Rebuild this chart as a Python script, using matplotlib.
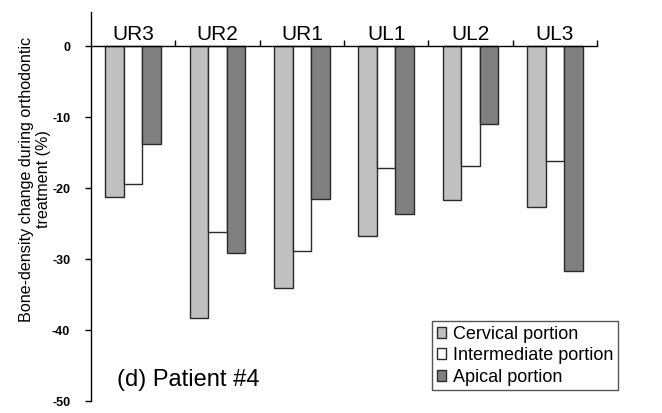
import matplotlib
matplotlib.use("Agg")
import matplotlib.pyplot as plt
import numpy as np
from matplotlib.patches import Patch

plt.rcParams['font.family'] = ['Liberation Sans', 'DejaVu Sans']
plt.rcParams['axes.unicode_minus'] = False

teeth = ["UR3", "UR2", "UR1", "UL1", "UL2", "UL3"]
cervical = [-21.3, -38.3, -34.0, -26.7, -21.6, -22.6]
intermediate = [-19.4, -26.2, -28.9, -17.2, -16.9, -16.1]
apical = [-13.8, -29.1, -21.5, -23.7, -11.0, -31.6]
series_names = ["Cervical portion", "Intermediate portion", "Apical portion"]
colors = ["#c0c0c0", "#ffffff", "#808080"]
yticks = [0, -10, -20, -30, -40, -50]

fig = plt.figure(figsize=(6.62, 4.13), dpi=100)
ax = fig.add_axes([91/662, 1-401/413, (597-91)/662, (401-12)/413])

x = np.arange(len(teeth))
w = 0.22
for off, vals, c in zip([-w, 0, w], [cervical, intermediate, apical], colors):
    ax.bar(x + off, vals, width=w, color=c, edgecolor="#2a2a2a", linewidth=1.0, zorder=2)

ax.set_xlim(-0.5, 5.5)
ax.set_ylim(-50, 4.85)

ax.spines['top'].set_visible(False)
ax.spines['right'].set_visible(False)
ax.spines['bottom'].set_position(('data', 0))
ax.spines['bottom'].set_linewidth(1.0)
ax.spines['left'].set_linewidth(1.0)
ax.spines['bottom'].set_zorder(3)

ax.set_xticks(x + 0.5)
ax.set_xticklabels([])
ax.tick_params(axis='x', direction='in', length=4, width=1)

ax.set_yticks(yticks)
ax.set_yticklabels([str(t) for t in yticks], fontsize=9, fontweight='bold')
ax.tick_params(axis='y', direction='out', length=4, width=1, pad=11)

for i, t in enumerate(teeth):
    ax.text(i, 0.93, t, ha='center', va='baseline', fontsize=15)

fig.text(35/662, 1-179/413, "Bone-density change during orthodontic\ntreatment (%)",
         rotation=90, ha='center', va='center', fontsize=11.6, linespacing=1.15)

fig.text(117/662, 1-386/413, "(d) Patient #4", ha='left', va='baseline', fontsize=17)

handles = [Patch(facecolor=c, edgecolor="#2a2a2a", linewidth=1.0) for c in colors]
leg = fig.legend(handles, series_names, loc='upper left',
                 bbox_to_anchor=(432/662, 1-321/413), frameon=True, fancybox=False,
                 edgecolor="#2a2a2a", fontsize=13, handlelength=0.55, handleheight=0.55,
                 handletextpad=0.35, borderpad=0.25, labelspacing=0.26, borderaxespad=0)
leg.get_frame().set_linewidth(1.0)

fig.savefig("out.png", dpi=100)
